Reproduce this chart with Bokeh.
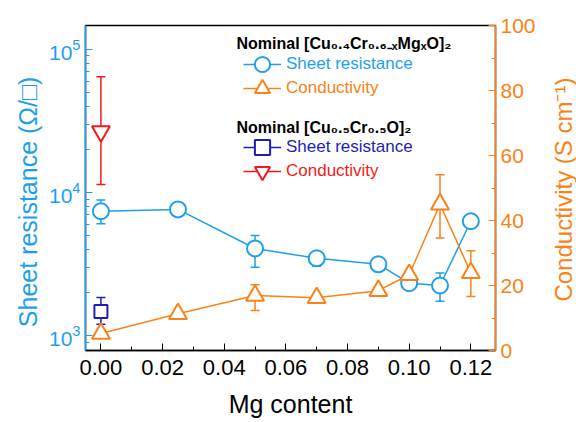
import math
from bokeh.plotting import figure
from bokeh.layouts import row
from bokeh.models import (Range1d, LinearAxis, LinearScale, FixedTicker, Whisker, ColumnDataSource,
                          Legend, LegendItem, Label, TeeHead, PrintfTickFormatter)
from bokeh.embed import file_html
from bokeh.resources import INLINE

# ---- data ----
mg = [0.0, 0.025, 0.05, 0.07, 0.09, 0.10, 0.11, 0.12]
sheet = [7400, 7620, 4065, 3470, 3150, 2325, 2240, 6300]
sheet_lo = [6060, 7350, 3000, 3050, 2950, 2200, 1740, 6050]
sheet_hi = [8850, 7900, 5000, 3600, 3350, 2450, 2740, 6550]
cond = [5.2, 11.3, 16.9, 16.2, 18.4, 23.3, 45.0, 23.9]
cond_lo = [4.0, 10.5, 12.3, 15.2, 17.6, 22.0, 34.6, 16.6]
cond_hi = [6.5, 12.1, 20.2, 17.2, 19.2, 24.6, 54.1, 30.7]

ref_x = [0.0]
ref_sheet = [1475]
ref_sheet_lo = [1200]
ref_sheet_hi = [1845]
ref_cond = [67.4]
ref_cond_lo = [51.1]
ref_cond_hi = [84.2]

x_ticks = [0.00, 0.02, 0.04, 0.06, 0.08, 0.10, 0.12]
x_minor = [0.01, 0.03, 0.05, 0.07, 0.09, 0.11]
log_ticks = [1e3, 1e4, 1e5]
log_minor = [m * 10 ** e for e in (2, 3, 4) for m in range(2, 10)]
cond_ticks = [0, 20, 40, 60, 80, 100]
cond_minor = [10, 30, 50, 70, 90]
cond_title = ["Conductivity (S cm⁻¹)"]

BLUE = "#1E9FEE"
ORANGE = "#FA8216"
DBLUE = "#1E1EB4"
RED = "#F51818"
FONT = "Liberation Sans"
NBSP = "\u00a0"

p = figure(width=548, height=420, output_backend="svg", toolbar_location=None,
           y_axis_type="log", x_range=Range1d(-0.005, 0.128),
           y_range=Range1d(787, 1.47e5),
           min_border_left=85, min_border_right=53, min_border_top=25, min_border_bottom=68)
p.extra_y_ranges = {"cond": Range1d(0, 100)}
p.extra_y_scales = {"cond": LinearScale()}
p.grid.visible = False
p.outline_line_color = "black"
p.outline_line_width = 1.5
p.background_fill_color = "white"

def style_axis(ax, color):
    ax.axis_line_color = color
    ax.axis_line_width = 1.5
    ax.major_tick_line_color = color
    ax.minor_tick_line_color = color
    ax.major_tick_in = 7
    ax.major_tick_out = 0
    ax.minor_tick_in = 4
    ax.minor_tick_out = 0
    ax.major_label_text_color = color
    ax.axis_label_text_color = color
    ax.major_label_text_font = FONT
    ax.axis_label_text_font = FONT
    ax.major_label_text_font_size = "21px"
    ax.axis_label_text_font_size = "25px"
    ax.axis_label_text_font_style = "normal"

xa = p.xaxis[0]
style_axis(xa, "black")
xa.major_label_text_font_size = "22px"
xa.major_label_standoff = 9
xa.ticker = FixedTicker(ticks=x_ticks, minor_ticks=x_minor)
xa.formatter = PrintfTickFormatter(format="%.2f")
xa.axis_label = "Mg content"
xa.axis_label_standoff = 12

ya = p.yaxis[0]
style_axis(ya, BLUE)
ya.ticker = FixedTicker(ticks=log_ticks, minor_ticks=log_minor)
ya.axis_label = "Sheet resistance (Ω/□)" + NBSP * 4
ya.axis_label_standoff = 4

ra = LinearAxis(y_range_name="cond")
style_axis(ra, ORANGE)
ra.ticker = FixedTicker(ticks=cond_ticks, minor_ticks=cond_minor)
p.add_layout(ra, "right")

# ---- error bars ----
s_src = ColumnDataSource(dict(x=mg, y=sheet, lo=sheet_lo, hi=sheet_hi))
c_src = ColumnDataSource(dict(x=mg, y=cond, lo=cond_lo, hi=cond_hi))
rs_src = ColumnDataSource(dict(x=ref_x, y=ref_sheet, lo=ref_sheet_lo, hi=ref_sheet_hi))
rc_src = ColumnDataSource(dict(x=ref_x, y=ref_cond, lo=ref_cond_lo, hi=ref_cond_hi))

def whisk(src, color, yname="default"):
    w = Whisker(base="x", lower="lo", upper="hi", source=src,
                line_color=color, line_width=1.5,
                upper_head=TeeHead(size=9, line_color=color, line_width=1.5),
                lower_head=TeeHead(size=9, line_color=color, line_width=1.5))
    if yname != "default":
        w.y_range_name = yname
    p.add_layout(w)

whisk(s_src, BLUE)
whisk(c_src, ORANGE, "cond")
whisk(rs_src, DBLUE)
whisk(rc_src, RED, "cond")

# ---- lines and markers ----
l1 = p.line("x", "y", source=s_src, line_color=BLUE, line_width=1.5)
m1 = p.scatter("x", "y", source=s_src, marker="circle", size=16, line_color=BLUE,
               line_width=2, fill_color="white")
l2 = p.line("x", "y", source=c_src, line_color=ORANGE, line_width=1.5, y_range_name="cond")
m2 = p.scatter("x", "y", source=c_src, marker="triangle", size=18, line_color=ORANGE,
               line_width=2, fill_color="white", y_range_name="cond")
l3 = p.line("x", "y", source=rs_src, line_color=DBLUE, line_width=1.5)
m3 = p.scatter("x", "y", source=rs_src, marker="square", size=13, line_color=DBLUE,
               line_width=2, fill_color="white")
l4 = p.line("x", "y", source=rc_src, line_color=RED, line_width=1.5, y_range_name="cond")
m4 = p.scatter("x", "y", source=rc_src, marker="inverted_triangle", size=18, line_color=RED,
               line_width=2, fill_color="white", y_range_name="cond")

# ---- legends ----
def add_legend(label, rends, color, vy):
    lg = Legend(items=[LegendItem(label=label, renderers=rends)], location=(158, vy),
                padding=0, margin=0, spacing=0, glyph_width=38, glyph_height=38,
                label_standoff=5, label_text_font=FONT, label_text_font_size="17px",
                label_text_color=color, border_line_color=None,
                background_fill_alpha=0)
    p.add_layout(lg, "center")

add_legend("Sheet resistance", [l1, m1], BLUE, 267)
add_legend("Conductivity", [l2, m2], ORANGE, 243)
add_legend("Sheet resistance", [l3, m3], DBLUE, 184)
add_legend("Conductivity", [l4, m4], RED, 160)

for txt, yy in (("Nominal [Cu₀.₄Cr₀.₆₋ₓMgₓO]₂", 307), ("Nominal [Cu₀.₅Cr₀.₅O]₂", 223)):
    p.add_layout(Label(x=151, y=yy, x_units="screen", y_units="screen", text=txt,
                       text_font=FONT, text_font_size="16px", text_font_style="bold",
                       text_color="black", text_baseline="middle"))

# ---- narrow strip carrying the right-axis title (reads bottom-to-top) ----
p2 = figure(width=28, height=420, output_backend="svg", toolbar_location=None,
            x_range=Range1d(0, 1), y_range=Range1d(0, 420),
            min_border_left=0, min_border_right=0, min_border_top=0, min_border_bottom=0)
p2.axis.visible = False
p2.grid.visible = False
p2.outline_line_color = None
p2.text(x=[0.55], y=[208], text=cond_title, angle=math.pi / 2,
        text_align="center", text_baseline="middle", text_font_size="24px",
        text_color=ORANGE, text_font={"value": FONT})

layout = row(p, p2, spacing=0)
open("out.html", "w").write(file_html(layout, INLINE))
